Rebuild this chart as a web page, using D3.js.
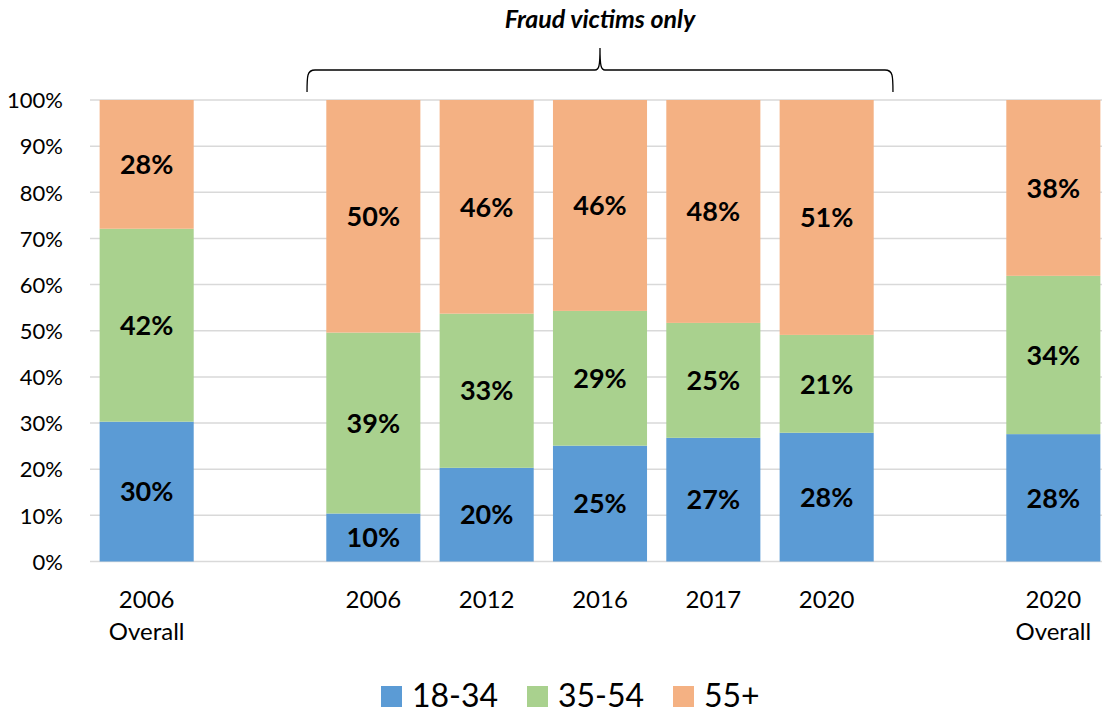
<!DOCTYPE html>
<html>
<head>
<meta charset="utf-8">
<script src="https://cdn.jsdelivr.net/npm/d3@7"></script>
<style>
	body { margin: 0; background: #fff; }
	svg { display: block; font-family: Lato, "Open Sans", sans-serif; }
</style>
</head>
<body>
<div id="chart"></div>
<script>
// categories (two blank slots separate the overall bars from the fraud-victim bars)
var categories = ["2006o", "gap1", "2006", "2012", "2016", "2017", "2020", "gap2", "2020o"];
var categoryLabels = [["2006", "Overall"], [], ["2006"], ["2012"], ["2016"], ["2017"], ["2020"], [], ["2020", "Overall"]];

// share of each age group, in percent
var age18to34 = [30.3, null, 10.4, 20.3, 25.1, 26.8, 27.9, null, 27.6];
var age35to54 = [41.8, null, 39.2, 33.4, 29.2, 24.9, 21.2, null, 34.3];
var age55plus = [27.9, null, 50.4, 46.3, 45.7, 48.3, 50.9, null, 38.1];

var seriesNames = ["18-34", "35-54", "55+"];
var seriesColors = ["#5b9bd5", "#a9d18e", "#f4b183"];
var yTicks = [0, 10, 20, 30, 40, 50, 60, 70, 80, 90, 100];

var width = 1102, height = 713;

var svg = d3.select("#chart").append("svg")
	.attr("width", width)
	.attr("height", height);

var x = d3.scaleBand()
	.domain(categories)
	.range([90, 1110])
	.paddingInner(0.17)
	.paddingOuter(0.085);

var y = d3.scaleLinear()
	.domain([0, 100])
	.range([561.5, 100]);

// gridlines
svg.append("g")
	.selectAll("line")
	.data(yTicks)
	.enter()
		.append("line")
			.attr("x1", 90)
			.attr("x2", width)
			.attr("y1", function(d){return y(d);})
			.attr("y2", function(d){return y(d);})
			.attr("stroke", "#d9d9d9")
			.attr("stroke-width", 1.5);

// y axis labels
var yAxis = d3.axisLeft(y)
	.tickValues(yTicks)
	.tickFormat(function(d){return d + "%";})
	.tickSize(0)
	.tickPadding(0);

var yAxisG = svg.append("g")
	.attr("transform", "translate(63,0)")
	.call(yAxis);
yAxisG.select(".domain").remove();
yAxisG.selectAll("text")
	.attr("font-family", "Lato, sans-serif")
	.attr("font-size", 22)
	.attr("fill", "#000")
	.attr("dy", "0.35em");

// stack the series
var rows = categories.map(function(c, i)
	{
		return {cat: c, s0: age18to34[i], s1: age35to54[i], s2: age55plus[i]};
	}
).filter(function(r){return r.s0 != null;});

var stack = d3.stack().keys(["s0", "s1", "s2"]);
var layers = stack(rows);

var layerG = svg.append("g")
	.selectAll(".layer")
	.data(layers)
	.enter()
		.append("g")
			.attr("class", "layer")
			.attr("fill", function(d, i){return seriesColors[i];});

layerG.selectAll("rect")
	.data(function(d){return d;})
	.enter()
		.append("rect")
			.attr("x", function(d){return x(d.data.cat);})
			.attr("width", x.bandwidth())
			.attr("y", function(d){return y(d[1]);})
			.attr("height", function(d){return y(d[0]) - y(d[1]);});

layerG.selectAll("text")
	.data(function(d){return d;})
	.enter()
		.append("text")
			.attr("x", function(d){return x(d.data.cat) + x.bandwidth() / 2;})
			.attr("y", function(d){return (y(d[0]) + y(d[1])) / 2;})
			.attr("dy", "0.36em")
			.attr("text-anchor", "middle")
			.attr("font-size", 27)
			.attr("font-weight", "bold")
			.attr("fill", "#000")
			.text(function(d){return Math.round(d[1] - d[0]) + "%";});

// category labels
var catG = svg.append("g")
	.selectAll("text")
	.data(categories)
	.enter()
		.append("text")
			.attr("x", function(d){return x(d) + x.bandwidth() / 2;})
			.attr("y", 608)
			.attr("text-anchor", "middle")
			.attr("font-size", 24)
			.attr("fill", "#000");

catG.selectAll("tspan")
	.data(function(d, i){return categoryLabels[i];})
	.enter()
		.append("tspan")
			.attr("x", function(){return d3.select(this.parentNode).attr("x");})
			.attr("dy", function(d, i){return i == 0 ? 0 : 32;})
			.text(function(d){return d;});

// bracket over fraud-victim bars
var gap = x.step() * x.paddingInner();
var bx0 = x("2006") - gap;
var bx1 = x("2020") + x.bandwidth() + gap;
var bxm = (bx0 + bx1) / 2;
var bracket = d3.path();
bracket.moveTo(bx0, 92);
bracket.bezierCurveTo(bx0, 76, bx0, 70, bx0 + 8, 70);
bracket.lineTo(bxm - 5, 70);
bracket.bezierCurveTo(bxm - 1, 70, bxm, 66, bxm, 48);
bracket.bezierCurveTo(bxm, 66, bxm + 1, 70, bxm + 5, 70);
bracket.lineTo(bx1 - 8, 70);
bracket.bezierCurveTo(bx1, 70, bx1, 76, bx1, 92);

svg.append("path")
	.attr("d", bracket.toString())
	.attr("fill", "none")
	.attr("stroke", "#000")
	.attr("stroke-width", 1.3);

svg.append("text")
	.attr("x", bxm)
	.attr("y", 28)
	.attr("text-anchor", "middle")
	.attr("font-size", 25)
	.attr("font-weight", "bold")
	.attr("font-style", "italic")
	.attr("fill", "#000")
	.text("Fraud victims only");

// legend
var legendX = [381, 527, 673];
var legend = svg.append("g")
	.selectAll("g")
	.data(seriesNames)
	.enter()
		.append("g")
			.attr("transform", function(d, i){return "translate(" + legendX[i] + ",686)";});

legend.append("rect")
	.attr("width", 21)
	.attr("height", 21)
	.attr("fill", function(d, i){return seriesColors[i];});

legend.append("text")
	.attr("x", 31)
	.attr("y", 21)
	.attr("font-size", 32)
	.attr("fill", "#000")
	.text(function(d){return d;});
</script>
</body>
</html>
